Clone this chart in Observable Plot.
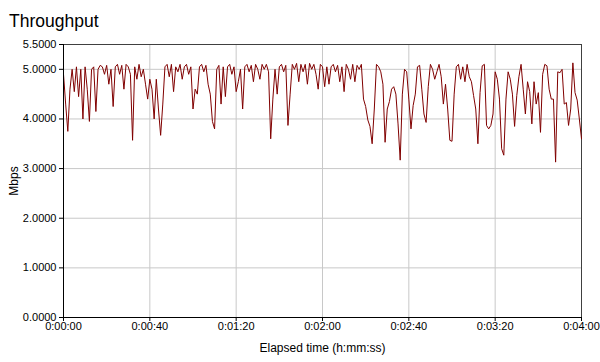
<!DOCTYPE html>
<html>
<head>
<meta charset="utf-8">
<script src="https://cdn.jsdelivr.net/npm/d3@7"></script>
<script src="https://cdn.jsdelivr.net/npm/@observablehq/plot@0.6"></script>
<style>
  html, body { margin: 0; padding: 0; background: #fff; }
  #wrap { position: relative; width: 600px; height: 362px; }
  #title { position: absolute; left: 9px; top: 13px; font: 17.5px/1 "Liberation Sans", Arial, sans-serif; color: #000; }
  #chart { position: absolute; left: 0; top: 0; }
  #chart svg g[aria-label="x-axis label"] text, #chart svg g[aria-label="y-axis label"] text { font-size: 12px; }
</style>
</head>
<body>
<div id="wrap"><div id="chart"></div><div id="title">Throughput</div></div>
<script>
// Throughput in Mbps, one reading per second of elapsed time (0..240 s)
const mbps = [
  4.9, 4.3, 3.75, 4.6, 5.0, 4.55, 5.05, 4.45, 5.0, 4.0,
  5.05, 4.6, 3.95, 5.0, 5.05, 4.15, 5.0, 5.08, 5.05, 4.9,
  5.08, 4.7, 5.0, 4.25, 5.05, 5.1, 4.9, 5.08, 4.6, 5.1,
  5.05, 4.9, 3.57, 5.05, 4.8, 5.1, 4.85, 5.0, 4.7, 4.4,
  4.8, 4.6, 4.0, 4.8, 4.2, 3.67, 4.3, 5.05, 5.1, 4.85,
  5.1, 4.55, 5.05, 4.95, 5.1, 4.8, 5.05, 5.1, 4.9, 5.05,
  4.2, 4.6, 4.5, 5.05, 5.1, 4.95, 5.08, 4.7, 4.5, 3.95,
  3.8, 5.0, 5.08, 4.3, 5.05, 4.45, 5.05, 5.1, 4.9, 5.05,
  4.55, 4.75, 5.0, 4.2, 5.05, 5.1, 4.95, 5.08, 4.75, 5.1,
  5.0, 4.8, 5.1, 5.0, 5.1, 4.95, 3.6, 4.4, 5.0, 4.5,
  5.05, 5.1, 4.95, 5.08, 3.87, 4.5, 5.1, 5.0, 5.12, 4.75,
  5.1, 4.95, 5.1, 4.7, 5.12, 5.0, 5.1, 4.9, 4.6, 5.1,
  5.05, 4.65, 5.05, 4.7, 5.05, 5.1, 4.95, 5.08, 4.75, 5.05,
  4.55, 5.1, 5.0, 4.8, 5.1, 4.75, 5.08, 5.0, 5.1, 4.4,
  4.25, 3.98, 3.85, 3.5, 4.2, 5.1, 5.05, 4.95, 4.7, 3.53,
  4.2, 4.35, 4.6, 4.65, 4.5, 3.9, 3.17, 4.5, 5.0, 4.95,
  4.4, 3.8, 4.27, 4.5, 5.05, 5.08, 4.6, 4.1, 3.93, 4.65,
  5.1, 5.0, 4.8, 4.95, 5.1, 4.85, 4.3, 4.7, 4.2, 3.57,
  3.55, 4.5, 5.05, 5.1, 4.8, 5.05, 4.75, 5.1, 4.85, 4.75,
  4.47, 4.2, 3.5, 4.53, 5.07, 5.1, 3.87, 3.8, 3.87, 4.1,
  4.95, 4.8, 4.4, 3.4, 3.27, 4.4, 4.95, 4.8, 4.5, 3.85,
  4.47, 4.85, 5.1, 4.6, 4.1, 4.75, 4.55, 3.9, 4.75, 4.3,
  4.53, 3.73, 4.9, 5.1, 5.07, 4.6, 4.4, 4.4, 3.13, 4.95,
  4.93, 5.0, 4.3, 4.33, 3.87, 4.2, 5.13, 4.53, 4.38, 4.0,
  3.6
];
const xTicks = [0, 40, 80, 120, 160, 200, 240];
const yTicks = [0, 1, 2, 3, 4, 5, 5.5];
const xLabel = "Elapsed time (h:mm:ss)";
const yLabel = "Mbps";

const fmtTime = s => `0:${String(Math.floor(s / 60)).padStart(2, "0")}:${String(s % 60).padStart(2, "0")}`;

const chart = Plot.plot({
  width: 600,
  height: 362,
  marginTop: 44,
  marginBottom: 45,
  marginLeft: 63,
  marginRight: 19,
  style: { fontFamily: "'Liberation Sans', Arial, sans-serif", fontSize: "11px", color: "#000", background: "#fff" },
  x: { domain: [0, 240], ticks: xTicks, tickFormat: fmtTime, label: xLabel, labelAnchor: "center", labelArrow: "none", labelOffset: 34, tickSize: 4, tickPadding: 1 },
  y: { domain: [0, 5.5], ticks: yTicks, tickFormat: d => d.toFixed(4), label: yLabel, labelAnchor: "center", labelArrow: "none", labelOffset: 54, tickSize: 4, tickPadding: 3 },
  marks: [
    Plot.gridX(xTicks, { stroke: "#c8c8c8", strokeOpacity: 1 }),
    Plot.gridY(yTicks, { stroke: "#c8c8c8", strokeOpacity: 1 }),
    Plot.frame({ stroke: "#404040" }),
    Plot.lineY(mbps, { x: (d, i) => i, y: d => d, stroke: "#800000", strokeWidth: 1 }),
    Plot.ruleY([0], { stroke: "#000" }),
    Plot.ruleX([0], { stroke: "#000" }),
    Plot.axisX({ ticks: xTicks, tickFormat: fmtTime, tickSize: 4, tickPadding: 1, label: xLabel, labelAnchor: "center", labelArrow: "none", labelOffset: 34 }),
    Plot.axisY({ ticks: yTicks, tickFormat: d => d.toFixed(4), tickSize: 4, tickPadding: 3, label: yLabel, labelAnchor: "center", labelArrow: "none", labelOffset: 54 })
  ]
});
document.getElementById("chart").appendChild(chart);
</script>
</body>
</html>
